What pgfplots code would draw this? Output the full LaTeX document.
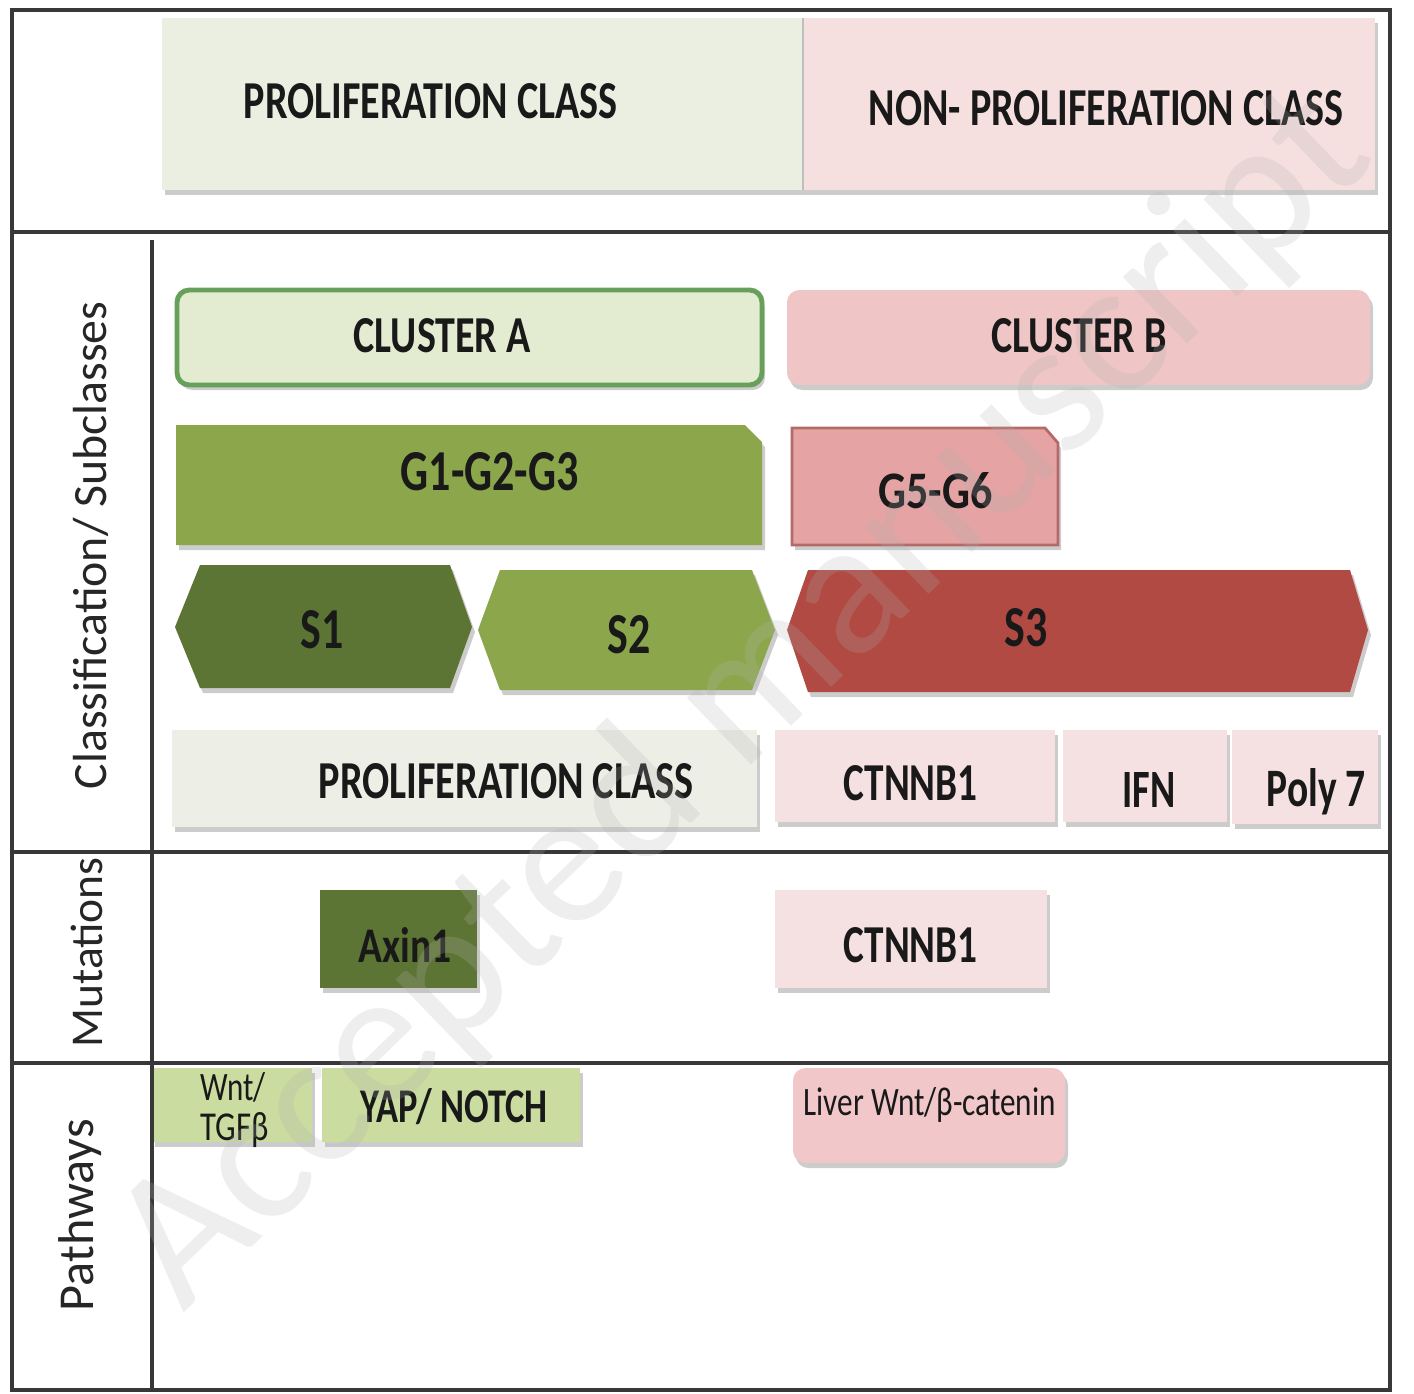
\documentclass[border=0pt]{standalone}
\usepackage{pgfplots}
\pgfplotsset{compat=1.18}
\usepackage{graphicx}
\usepackage{fontspec}
\setmainfont{Carlito}
\definecolor{hdrG}{HTML}{EBEFE2}
\definecolor{hdrP}{HTML}{F6DFDF}
\definecolor{clA}{HTML}{E3EBD0}
\definecolor{clAb}{HTML}{66A05A}
\definecolor{clB}{HTML}{EFC5C5}
\definecolor{gG}{HTML}{8CA74B}
\definecolor{gP}{HTML}{E5A3A3}
\definecolor{gPb}{HTML}{B36A68}
\definecolor{sOne}{HTML}{5D7534}
\definecolor{sThree}{HTML}{B04A42}
\definecolor{lowG}{HTML}{EDEFE6}
\definecolor{lowP}{HTML}{F5E1E1}
\definecolor{pwG}{HTML}{CADC9F}
\definecolor{pwP}{HTML}{F2C7C9}
\definecolor{frame}{HTML}{383838}
\newcommand{\shp}[2]{%
  \addplot[#1,draw=none,fill=black,fill opacity=0.2,xshift=0.3mm,yshift=-0.5mm] coordinates {#2} -- cycle;
  \addplot[#1] coordinates {#2} -- cycle;}
\newcommand{\lab}[5]{\node[anchor=base west,inner sep=0pt,text=black!90] at (axis cs:#1,#2) {\resizebox{#3}{#4}{#5}};}
\begin{document}
\begin{tikzpicture}
\begin{axis}[scale only axis, width=14.14cm, height=13.93cm,
  xmin=0, xmax=1414, ymin=0, ymax=1393, y dir=reverse,
  axis lines=none, clip=false]
% full canvas extent
\addplot[draw=none] coordinates {(0,0) (1414,1393)};
% header
\shp{draw=none,fill=hdrG}{(162,18) (803,18) (803,190) (162,190)}
\shp{draw=none,fill=hdrP}{(803,18) (1375,18) (1375,190) (803,190)}
\addplot[draw=black!25, line width=0.5pt] coordinates {(803,18) (803,190)};
% clusters
\shp{draw=clAb,line width=1.4pt,fill=clA,rounded corners=3.5pt}{(177,290) (762,290) (762,385) (177,385)}
\shp{draw=none,fill=clB,rounded corners=3.5pt}{(787,290) (1370,290) (1370,385) (787,385)}
% G groups
\shp{draw=none,fill=gG}{(176,425) (745,425) (762,442) (762,545) (176,545)}
\shp{draw=gPb,line width=0.8pt,fill=gP}{(792,428) (1045,428) (1058,443) (1058,545) (792,545)}
% S subclasses
\shp{draw=none,fill=sOne}{(175,627) (200,565) (450,565) (472,627) (450,688) (200,688)}
\shp{draw=none,fill=gG}{(478,630) (500,570) (752,570) (775,630) (752,690) (500,690)}
\shp{draw=none,fill=sThree}{(787,630) (808,570) (1350,570) (1368,630) (1350,692) (808,692)}
% lower classification row
\shp{draw=none,fill=lowG}{(172,730) (757,730) (757,827) (172,827)}
\shp{draw=none,fill=lowP}{(775,730) (1055,730) (1055,822) (775,822)}
\shp{draw=none,fill=lowP}{(1063,730) (1227,730) (1227,822) (1063,822)}
\shp{draw=none,fill=lowP}{(1232,730) (1378,730) (1378,824) (1232,824)}
% mutations
\shp{draw=none,fill=sOne}{(320,890) (477,890) (477,988) (320,988)}
\shp{draw=none,fill=lowP}{(775,890) (1047,890) (1047,988) (775,988)}
% pathways
\shp{draw=none,fill=pwG}{(152,1068) (312,1068) (312,1142) (152,1142)}
\shp{draw=none,fill=pwG}{(322,1068) (580,1068) (580,1142) (322,1142)}
\shp{draw=none,fill=pwP,rounded corners=3.5pt}{(793,1068) (1065,1068) (1065,1163) (793,1163)}
% frame
\addplot[draw=frame, line width=0.9pt] coordinates {(12,10) (1390,10) (1390,1390) (12,1390)} -- cycle;
\addplot[draw=frame, line width=0.9pt] coordinates {(12,232) (1390,232)};
\addplot[draw=frame, line width=0.9pt] coordinates {(12,852) (1390,852)};
\addplot[draw=frame, line width=0.9pt] coordinates {(12,1063) (1390,1063)};
\addplot[draw=frame, line width=0.9pt] coordinates {(152,240) (152,1390)};
% texts
\lab{243}{118}{3.74cm}{0.35cm}{\bfseries PROLIFERATION CLASS}
\lab{868}{125}{4.75cm}{0.35cm}{\bfseries NON- PROLIFERATION CLASS}
\lab{353}{352}{1.77cm}{0.34cm}{\bfseries CLUSTER A}
\lab{991}{352}{1.75cm}{0.34cm}{\bfseries CLUSTER B}
\lab{400}{490}{1.78cm}{0.38cm}{\bfseries G1-G2-G3}
\lab{878}{508}{1.14cm}{0.36cm}{\bfseries G5-G6}
\lab{300}{648}{0.43cm}{0.38cm}{\bfseries S1}
\lab{607}{653}{0.43cm}{0.38cm}{\bfseries S2}
\lab{1004}{646}{0.43cm}{0.38cm}{\bfseries S3}
\lab{318}{798}{3.75cm}{0.35cm}{\bfseries PROLIFERATION CLASS}
\lab{843}{800}{1.34cm}{0.35cm}{\bfseries CTNNB1}
\lab{1122}{807}{0.53cm}{0.35cm}{\bfseries IFN}
\lab{1266}{806}{0.99cm}{0.38cm}{\bfseries Poly 7}
\lab{358}{962}{0.93cm}{0.35cm}{\bfseries Axin1}
\lab{843}{962}{1.34cm}{0.35cm}{\bfseries CTNNB1}
\lab{200}{1100}{0.65cm}{0.28cm}{Wnt/}
\lab{200}{1140}{0.68cm}{0.28cm}{TGFβ}
\lab{360}{1122}{1.87cm}{0.34cm}{\bfseries YAP/ NOTCH}
\lab{803}{1115}{2.52cm}{0.28cm}{Liver Wnt/β-catenin}
% row labels
\node[rotate=90,anchor=base west,inner sep=0pt,text=black!85] at (axis cs:106,790) {\resizebox{4.88cm}{!}{Classification/ Subclasses}};
\node[rotate=90,anchor=base west,inner sep=0pt,text=black!85] at (axis cs:102,1048) {\resizebox{1.90cm}{!}{Mutations}};
\node[rotate=90,anchor=base west,inner sep=0pt,text=black!85] at (axis cs:93,1312) {\resizebox{1.92cm}{!}{Pathways}};
% watermark
\node[rotate=44,inner sep=0pt,text=gray!60,text opacity=0.22] at (axis cs:745,700) {\resizebox{16.6cm}{!}{Accepted manuscript}};
\end{axis}
\end{tikzpicture}
\end{document}
